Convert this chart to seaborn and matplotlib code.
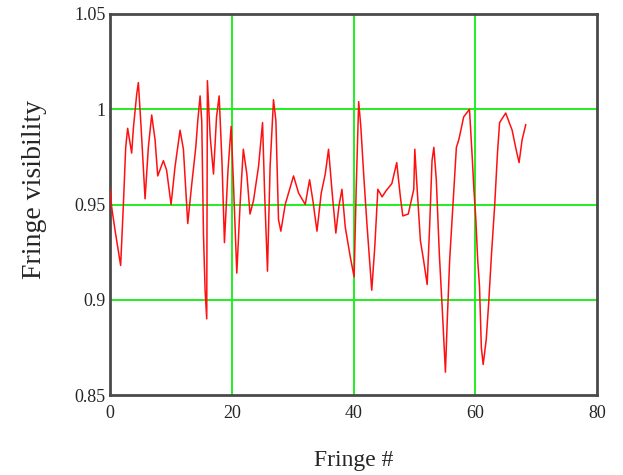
import numpy as np
import pandas as pd
import matplotlib
matplotlib.use("Agg")
import matplotlib.pyplot as plt
import seaborn as sns

# ==========================================
# DATA
# ==========================================
fringe = [
    0.0, 0.3, 0.9, 1.75, 2.2, 2.58, 2.9, 3.2, 3.56, 3.84, 4.39, 4.66, 5.1, 5.76,
    6.3, 6.85, 7.4, 7.84, 8.77, 9.3, 10.03, 10.69, 11.51, 12.06, 12.77, 13.44,
    14.09, 14.42, 14.8, 15.07, 15.35, 15.62, 15.89, 16.0, 16.45, 17.0, 17.5,
    17.93, 18.4, 18.8, 19.38, 19.9, 20.28, 20.83, 21.4, 21.9, 22.48, 23.0,
    23.57, 24.4, 25.06, 25.4, 25.87, 26.3, 26.86, 27.25, 27.68, 28.07, 28.78,
    30.15, 30.98, 32.07, 32.79, 33.33, 34.0, 34.7, 35.36, 35.9, 36.5, 37.1,
    37.6, 38.1, 38.65, 39.5, 40.1, 40.45, 40.85, 41.2, 41.67, 42.2, 43.0,
    43.5, 44.0, 44.7, 45.3, 46.3, 47.1, 47.7, 48.1, 49.0, 49.9, 50.07, 50.4,
    50.99, 51.5, 52.1, 52.5, 52.9, 53.2, 53.6, 54.1, 54.6, 55.1, 55.4, 55.8,
    56.5, 56.9, 57.3, 58.1, 59.05, 59.5, 59.76, 60.1, 60.4, 60.7, 61.0, 61.3,
    61.8, 62.2, 62.67, 63.2, 63.65, 64.0, 65.0, 66.06, 66.7, 67.2, 67.7, 68.3,
]
visibility = [
    0.958, 0.948, 0.935, 0.918, 0.95, 0.980, 0.990, 0.984, 0.977, 0.990, 1.008,
    1.014, 0.991, 0.953, 0.980, 0.997, 0.984, 0.965, 0.973, 0.968, 0.950,
    0.970, 0.989, 0.979, 0.940, 0.961, 0.980, 0.994, 1.007, 0.994, 0.935,
    0.905, 0.890, 1.015, 0.986, 0.966, 0.996, 1.007, 0.972, 0.930, 0.968,
    0.991, 0.961, 0.914, 0.952, 0.979, 0.966, 0.945, 0.952, 0.970, 0.993,
    0.956, 0.915, 0.970, 1.005, 0.994, 0.942, 0.936, 0.950, 0.965, 0.956,
    0.950, 0.963, 0.952, 0.936, 0.956, 0.966, 0.979, 0.956, 0.935, 0.949,
    0.958, 0.938, 0.922, 0.912, 0.959, 1.004, 0.991, 0.966, 0.940, 0.905,
    0.928, 0.958, 0.954, 0.957, 0.961, 0.972, 0.954, 0.944, 0.945, 0.958,
    0.979, 0.961, 0.931, 0.921, 0.908, 0.938, 0.973, 0.980, 0.963, 0.924,
    0.894, 0.862, 0.889, 0.921, 0.959, 0.980, 0.984, 0.996, 1.000, 0.975,
    0.959, 0.942, 0.921, 0.907, 0.875, 0.866, 0.879, 0.898, 0.924, 0.950,
    0.977, 0.993, 0.998, 0.989, 0.979, 0.972, 0.984, 0.992,
]

x_ticks = [0, 20, 40, 60, 80]
x_tick_labels = ["0", "20", "40", "60", "80"]
y_ticks = [0.85, 0.9, 0.95, 1.0, 1.05]
y_tick_labels = ["0.85", "0.9", "0.95", "1", "1.05"]

df = pd.DataFrame({"fringe": fringe, "visibility": visibility})

# ==========================================
# PLOT
# ==========================================
sns.set_style("white")
plt.rcParams["font.family"] = ["Liberation Serif", "DejaVu Serif"]

fig = plt.figure(figsize=(6.23, 4.75), dpi=100)
ax = fig.add_axes([110 / 623, 1 - 395 / 475, 487 / 623, 381 / 475])

# green grid only on the inner ticks
for xv in x_ticks[1:-1]:
    ax.axvline(xv, color="#22ee22", lw=1.4, zorder=1)
for yv in y_ticks[1:-1]:
    ax.axhline(yv, color="#22ee22", lw=1.4, zorder=1)

sns.lineplot(data=df, x="fringe", y="visibility", sort=False, estimator=None,
             color="#ff1010", lw=1.1, ax=ax, zorder=3)

ax.set_xlim(0, 80)
ax.set_ylim(0.85, 1.05)
ax.set_xticks(x_ticks)
ax.set_xticklabels(x_tick_labels, fontsize=13)
ax.set_yticks(y_ticks)
ax.set_yticklabels(y_tick_labels, fontsize=13)
ax.tick_params(axis="y", length=0, pad=3)
ax.tick_params(axis="x", length=0, pad=7)

for s in ax.spines.values():
    s.set_color("#4a4a4a")
    s.set_linewidth(2.0)

ax.set_xlabel("Fringe #", fontsize=17)
ax.set_ylabel("Fringe visibility", fontsize=20)
ax.xaxis.set_label_coords(0.5, -0.145)
ax.yaxis.set_label_coords(-0.13, 0.54)

fig.savefig("out.png", dpi=100)
